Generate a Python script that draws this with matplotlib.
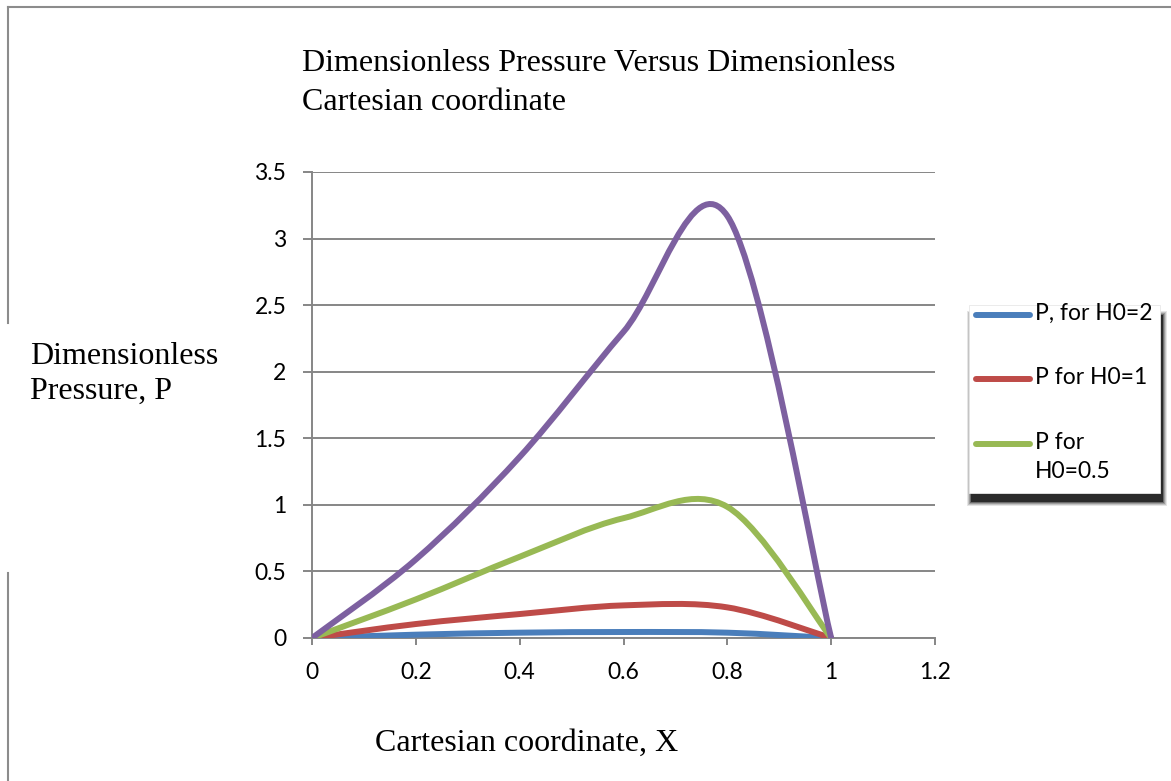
import matplotlib
matplotlib.use("Agg")
import matplotlib.pyplot as plt
import numpy as np
from matplotlib.path import Path
from matplotlib.patches import PathPatch, Rectangle
from matplotlib.lines import Line2D

# dimensionless coordinate and pressure values
x = [0, 0.2, 0.4, 0.6, 0.8, 1.0]
p_h2 = [0, 0.025, 0.04, 0.045, 0.04, 0]
p_h1 = [0, 0.105, 0.18, 0.245, 0.23, 0]
p_h05 = [0, 0.29, 0.61, 0.90, 0.985, 0]
p_h025 = [0, 0.59, 1.36, 2.30, 3.17, 0]

labels = ["P, for H0=2", "P for H0=1", "P for\nH0=0.5"]
colors = ["#4a7ebb", "#be4b48", "#98b954", "#7d60a0"]

xticks = [0, 0.2, 0.4, 0.6, 0.8, 1, 1.2]
yticks = [0, 0.5, 1, 1.5, 2, 2.5, 3, 3.5]

W, H = 1171, 781


def fx(px):
    return px / W


def fy(py):
    return 1 - py / H


def smooth_path(xs, ys):
    # Catmull-Rom style bezier segments, like a spreadsheet "smoothed line"
    pts = np.column_stack([xs, ys]).astype(float)
    n = len(pts)
    verts = [pts[0]]
    codes = [Path.MOVETO]
    for i in range(n - 1):
        p0 = pts[i - 1] if i > 0 else pts[i]
        p1, p2 = pts[i], pts[i + 1]
        p3 = pts[i + 2] if i + 2 < n else pts[i + 1]
        c1 = p1 + (p2 - p0) / 6
        c2 = p2 - (p3 - p1) / 6
        verts += [c1, c2, p2]
        codes += [Path.CURVE4] * 3
    return Path(verts, codes)


fig = plt.figure(figsize=(W / 100, H / 100), dpi=100)
ax = fig.add_axes([fx(312), fy(638), fx(935) - fx(312), fy(172) - fy(638)])

series = [p_h2, p_h1, p_h05, p_h025]
for ys, c in zip(series, colors):
    ax.add_patch(PathPatch(smooth_path(x, ys), fill=False, edgecolor=c,
                           lw=4.3, capstyle="round", joinstyle="round",
                           zorder=3))

ax.set_xlim(0, 1.2)
ax.set_ylim(0, 3.5)
ax.set_xticks(xticks)
ax.set_yticks(yticks)
ax.set_xticklabels([f"{t:g}" for t in xticks])
ax.set_yticklabels([f"{t:g}" for t in yticks])

grey = "#868686"
ax.grid(axis="y", color=grey, lw=1.4)
ax.set_axisbelow(True)
for s in ["top", "right"]:
    ax.spines[s].set_visible(False)
for s in ["left", "bottom"]:
    ax.spines[s].set_color(grey)
    ax.spines[s].set_linewidth(1.4)
ax.tick_params(axis="both", direction="out", width=1.4, color=grey,
               labelsize=16.5)
ax.tick_params(axis="y", length=6.5, pad=12)
ax.tick_params(axis="x", length=5, pad=12.5)
for lab in ax.get_xticklabels() + ax.get_yticklabels():
    lab.set_fontfamily("Lato")

serif = "Liberation Serif"
fig.text(fx(302), fy(49), "Dimensionless Pressure Versus Dimensionless\nCartesian coordinate",
         family=serif, fontsize=23, ha="left", va="top", linespacing=1.46)
fig.text(fx(30), fy(342), "Dimensionless\nPressure, P",
         family=serif, fontsize=23, ha="left", va="top", linespacing=1.27)
fig.text(fx(527), fy(743), "Cartesian coordinate, X",
         family=serif, fontsize=23, ha="center", va="center")

# outer frame of the chart area
fig.add_artist(Line2D([fx(8), 1], [fy(7), fy(7)], color="#8c8c8c", lw=1.5))
fig.add_artist(Line2D([fx(8), fx(8)], [fy(7), fy(323)], color="#8c8c8c", lw=1.5))
fig.add_artist(Line2D([fx(8), fx(8)], [fy(573), 0], color="#8c8c8c", lw=1.5))

# legend box with a soft drop shadow, mostly below the box
lx0, lx1, ly0, ly1 = 969, 1160, 305, 493
for g, a in [(4, 0.1), (3, 0.14), (2, 0.2), (1, 0.3), (0, 0.6)]:
    sx0, sx1 = lx0 + 2 - g, lx1 + 3 + g
    sy0, sy1 = ly0 + 10 - g, ly1 + 9 + g
    fig.add_artist(Rectangle((fx(sx0), fy(sy1)), fx(sx1) - fx(sx0), fy(sy0) - fy(sy1),
                             facecolor="black", edgecolor="none", alpha=a))
fig.add_artist(Rectangle((fx(lx0), fy(ly1)), fx(lx1) - fx(lx0), fy(ly0) - fy(ly1),
                         facecolor="white", edgecolor="#e8e8e8", lw=0.6))

handle_y = [315, 379, 444]
for hy, c, lab in zip(handle_y, colors[:3], labels):
    fig.add_artist(Line2D([fx(976), fx(1030)], [fy(hy), fy(hy)], color=c,
                          lw=4.3, solid_capstyle="round"))
    fig.text(fx(1035), fy(hy - 12), lab, family="Lato", fontsize=16.5,
             ha="left", va="top", linespacing=1.45)

fig.savefig("out.png", dpi=100, facecolor="white")
